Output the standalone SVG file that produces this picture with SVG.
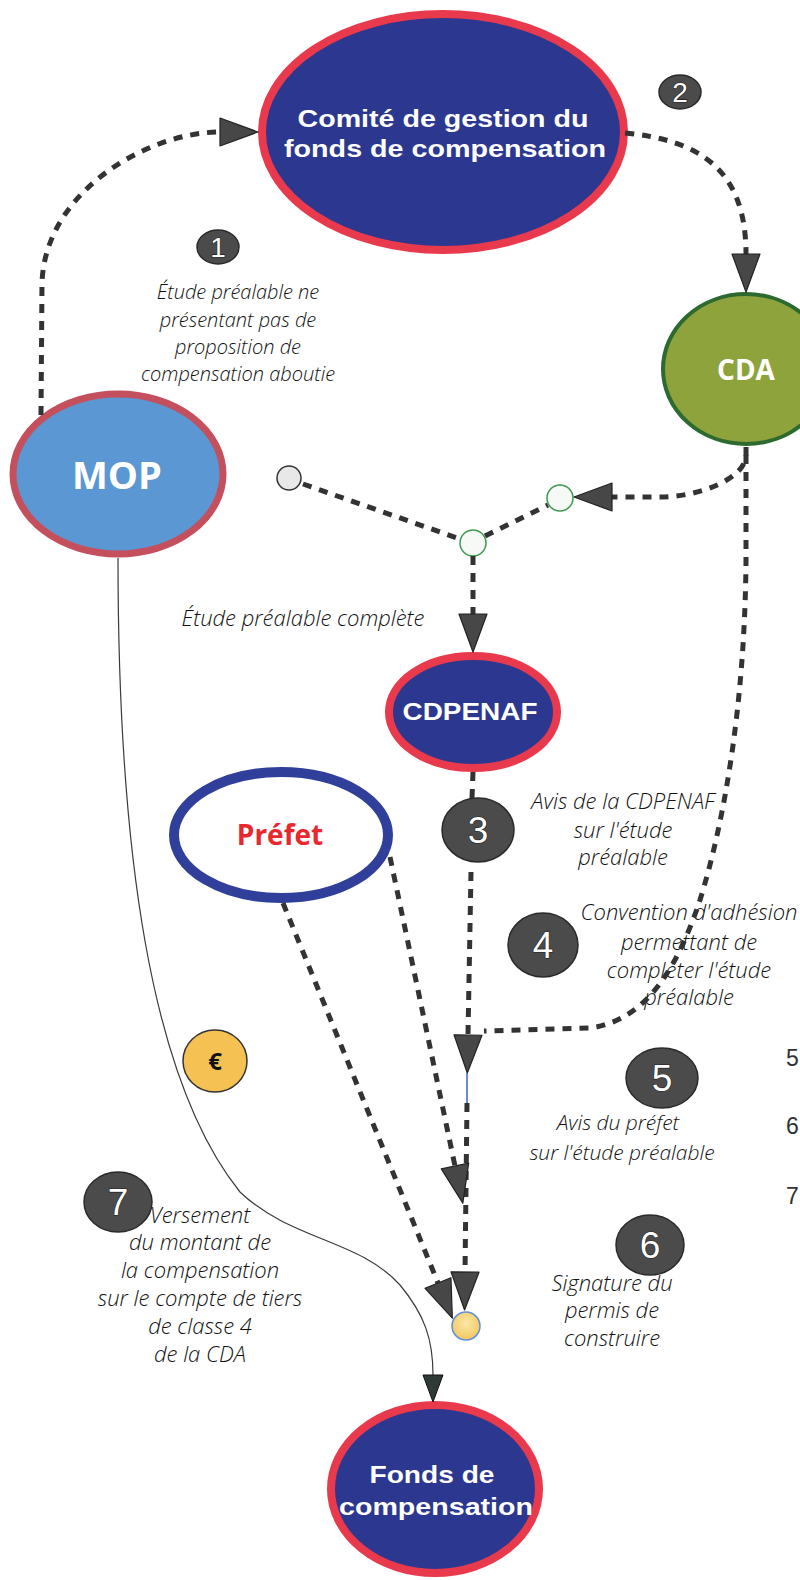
<svg xmlns="http://www.w3.org/2000/svg" width="800" height="1580" viewBox="0 0 800 1580">
<style>
.bg{fill:#ffffff}
.navy{fill:#2c378f;stroke:#e83a4c;stroke-width:8}
.title{font-family:"Liberation Sans",Arial,sans-serif;font-weight:bold;fill:#ffffff;text-anchor:middle}
.bold{font-family:"Open Sans","Liberation Sans",sans-serif;font-weight:bold;text-anchor:middle}
.lbl{font-family:"Open Sans","Liberation Sans",sans-serif;font-style:italic;font-weight:300;fill:#111111;text-anchor:middle;font-size:22px}
.lbl1{font-size:20px}
.lbl5{font-size:21px}
.badge{fill:#4b4b4b;stroke:#2a2a2a;stroke-width:1.5}
.num{font-family:"Liberation Sans",Arial,sans-serif;fill:#ffffff;stroke:#1e1e1e;stroke-width:1.2;paint-order:stroke;text-anchor:middle}
.dash{fill:none;stroke:#333333;stroke-width:5;stroke-dasharray:9 8}
.thin{fill:none;stroke:#3a3a3a;stroke-width:1.2}
.junc{fill:#f6f9f6;stroke:#3f9a52;stroke-width:1.5}
.edge{font-family:"Liberation Sans",Arial,sans-serif;font-size:23px;fill:#333}
</style>
<defs>
<marker id="arr" markerUnits="userSpaceOnUse" markerWidth="40" markerHeight="30" viewBox="0 0 40 30" refX="0" refY="14" orient="auto" overflow="visible">
<path d="M0,0 L38,14 L0,28 Z" fill="#474747" stroke="#222" stroke-width="1.2" stroke-linejoin="round"/>
</marker>
<marker id="arrs" markerUnits="userSpaceOnUse" markerWidth="30" markerHeight="22" viewBox="0 0 30 22" refX="0" refY="10" orient="auto" overflow="visible">
<path d="M0,0 L27,10 L0,20 Z" fill="#2e3a36" stroke="#111" stroke-width="1"/>
</marker>
<radialGradient id="yel" cx="0.5" cy="0.4" r="0.6">
<stop offset="0" stop-color="#fbe7a6"/>
<stop offset="1" stop-color="#f2c860"/>
</radialGradient>
</defs>
<rect class="bg" x="0" y="0" width="800" height="1580"/>

<g id="comite">
<ellipse class="navy" cx="443" cy="132" rx="181" ry="118"/>
<text class="title" x="443" y="127" font-size="24" textLength="291" lengthAdjust="spacingAndGlyphs">Comité de gestion du</text>
<text class="title" x="445" y="157" font-size="24" textLength="322" lengthAdjust="spacingAndGlyphs">fonds de compensation</text>
</g>

<g id="cda">
<ellipse cx="746" cy="369" rx="83" ry="75" fill="#8fa33c" stroke="#2c6a30" stroke-width="4"/>
<text class="bold" x="746" y="380" font-size="28" fill="#ffffff">CDA</text>
</g>

<g id="mop">
<ellipse cx="118" cy="474" rx="105" ry="80" fill="#5a97d3" stroke="#c4505e" stroke-width="7"/>
<text class="bold" x="117" y="489" font-size="38" fill="#ffffff">MOP</text>
</g>

<g id="cdpenaf">
<ellipse class="navy" cx="473" cy="712" rx="84" ry="56" stroke-width="7"/>
<text class="title" x="470" y="720" font-size="24" textLength="135" lengthAdjust="spacingAndGlyphs">CDPENAF</text>
</g>

<g id="prefet">
<ellipse cx="281" cy="835" rx="107" ry="63" fill="#ffffff" stroke="#2f3f9a" stroke-width="10"/>
<text class="bold" x="280" y="845" font-size="28" fill="#e8282e">Préfet</text>
</g>

<g id="fonds">
<ellipse class="navy" cx="435" cy="1489" rx="104" ry="84"/>
<text class="title" x="432" y="1483" font-size="24" textLength="125" lengthAdjust="spacingAndGlyphs">Fonds de</text>
<text class="title" x="436" y="1515" font-size="24" textLength="194" lengthAdjust="spacingAndGlyphs">compensation</text>
</g>

<g id="junction-grey"><circle cx="289" cy="478" r="12" fill="#e8e8e8" stroke="#333" stroke-width="1.5"/></g>
<g id="junction-cda"><circle class="junc" cx="560" cy="498" r="13"/></g>
<g id="junction-main"><circle class="junc" cx="473" cy="543" r="13"/></g>
<g id="junction-end"><circle cx="466" cy="1326" r="14" fill="url(#yel)" stroke="#5f8fdc" stroke-width="1.5"/></g>

<g id="euro">
<ellipse cx="215" cy="1061" rx="32" ry="31" fill="#f5c152" stroke="#333" stroke-width="1.5"/>
<text class="bold" x="215" y="1070" font-size="24" fill="#111">€</text>
</g>

<g id="step-1">
<ellipse class="badge" cx="218" cy="247" rx="21" ry="17"/>
<text class="num" x="218" y="257" font-size="28">1</text>
<text class="lbl lbl1" x="238" y="299">Étude préalable ne</text>
<text class="lbl lbl1" x="238" y="327">présentant pas de</text>
<text class="lbl lbl1" x="238" y="354">proposition de</text>
<text class="lbl lbl1" x="238" y="381">compensation aboutie</text>
</g>

<g id="step-2">
<ellipse class="badge" cx="680" cy="92" rx="21" ry="17"/>
<text class="num" x="680" y="102" font-size="28">2</text>
</g>

<g id="label-complete">
<text class="lbl" x="303" y="626">Étude préalable complète</text>
</g>

<g id="step-3">
<ellipse class="badge" cx="478" cy="830" rx="36" ry="32"/>
<text class="num" x="478" y="843" font-size="37">3</text>
<text class="lbl" x="623" y="809">Avis de la CDPENAF</text>
<text class="lbl" x="623" y="838">sur l'étude</text>
<text class="lbl" x="623" y="865">préalable</text>
</g>

<g id="step-4">
<ellipse class="badge" cx="543" cy="945" rx="35" ry="32"/>
<text class="num" x="543" y="958" font-size="37">4</text>
<text class="lbl" x="689" y="920">Convention d'adhésion</text>
<text class="lbl" x="689" y="950">permettant de</text>
<text class="lbl" x="689" y="978">compléter l'étude</text>
<text class="lbl" x="689" y="1005">préalable</text>
</g>

<g id="step-5">
<ellipse class="badge" cx="662" cy="1078" rx="36" ry="30"/>
<text class="num" x="662" y="1091" font-size="37">5</text>
<text class="lbl lbl5" x="618" y="1130">Avis du préfet</text>
<text class="lbl lbl5" x="622" y="1160">sur l'étude préalable</text>
</g>

<g id="step-6">
<ellipse class="badge" cx="650" cy="1245" rx="34" ry="30"/>
<text class="num" x="650" y="1258" font-size="37">6</text>
<text class="lbl" x="612" y="1291">Signature du</text>
<text class="lbl" x="612" y="1318">permis de</text>
<text class="lbl" x="612" y="1346">construire</text>
</g>

<g id="step-7">
<ellipse class="badge" cx="118" cy="1202" rx="34" ry="30"/>
<text class="num" x="118" y="1215" font-size="37">7</text>
<text class="lbl" x="200" y="1223">Versement</text>
<text class="lbl" x="200" y="1250">du montant de</text>
<text class="lbl" x="200" y="1278">la compensation</text>
<text class="lbl" x="200" y="1306">sur le compte de tiers</text>
<text class="lbl" x="200" y="1334">de classe 4</text>
<text class="lbl" x="200" y="1362">de la CDA</text>
</g>

<g id="edge-fragments">
<text class="edge" x="786" y="1066">5</text>
<text class="edge" x="786" y="1134">6</text>
<text class="edge" x="786" y="1204">7</text>
</g>

<g id="connectors">
<path class="dash" d="M41,415 L42,283 C45,190 150,132 220,132" marker-end="url(#arr)"/>
<path class="dash" d="M625,133 C700,140 746,170 746,254" marker-end="url(#arr)"/>
<path class="dash" d="M746,447 L746,455 C746,478 700,497 660,497 L612,497" marker-end="url(#arr)"/>
<path class="dash" d="M746,455 L746,560 C745,700 725,820 700,900 C680,960 650,1020 590,1028 L484,1031"/>
<path class="dash" d="M303,484 L460,539"/>
<path class="dash" d="M485,536 L548,505"/>
<path class="dash" d="M473,556 L473,614" marker-end="url(#arr)"/>
<path class="dash" d="M473,772 L472,798"/>
<path class="dash" d="M471,872 L468,1035" marker-end="url(#arr)"/>
<path d="M467,1073 L467,1103" fill="none" stroke="#3b62c9" stroke-width="1.5"/>
<path class="dash" d="M467,1103 L465,1272" marker-end="url(#arr)"/>
<path class="dash" d="M390,857 L455,1166" marker-end="url(#arr)"/>
<path class="dash" d="M283,903 L438,1283" marker-end="url(#arr)"/>
<path class="thin" d="M118,558 C118,850 150,1080 240,1192 C290,1240 360,1240 400,1285 C425,1315 433,1340 433,1375" marker-end="url(#arrs)"/>
</g>
</svg>
